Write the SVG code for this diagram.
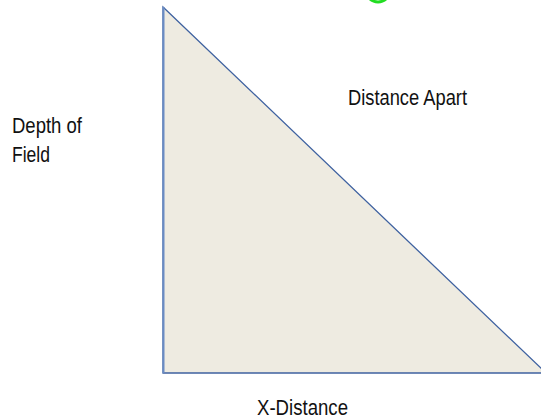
<svg xmlns="http://www.w3.org/2000/svg" width="541" height="420" viewBox="0 0 541 420">
<style>
.lbl{font-family:"Liberation Sans",Arial,sans-serif;font-size:22px;fill:#111}
</style>
<rect width="541" height="420" fill="#fff"/>
<circle cx="378" cy="-10" r="12" fill="none" stroke="#22DD22" stroke-width="3"/>
<g id="triangle">
<polygon points="163,7 546,373 163,373" fill="#EEEBE1" stroke="#3F62A0" stroke-width="1.3"/>
<line x1="163.5" y1="7" x2="163.5" y2="373" stroke="#6A8CC4" stroke-width="2"/>
</g>
<g id="label-distance-apart"><text class="lbl" x="348" y="105" textLength="119" lengthAdjust="spacingAndGlyphs">Distance Apart</text></g>
<g id="label-depth"><text class="lbl" x="12" y="133" textLength="70" lengthAdjust="spacingAndGlyphs">Depth of</text><text class="lbl" x="12" y="162" textLength="38" lengthAdjust="spacingAndGlyphs">Field</text></g>
<g id="label-x"><text class="lbl" x="257" y="415" textLength="91" lengthAdjust="spacingAndGlyphs">X-Distance</text></g>
</svg>
